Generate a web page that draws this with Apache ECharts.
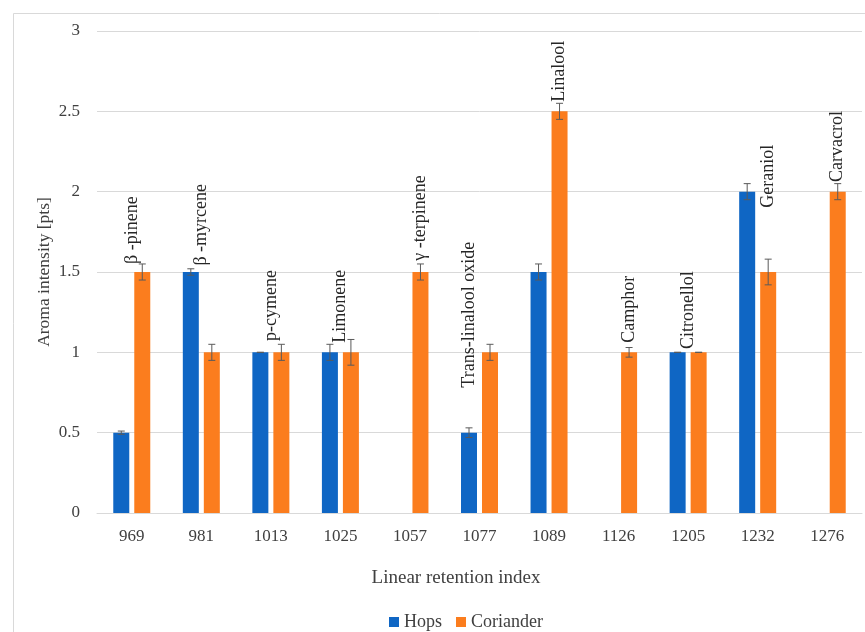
<!DOCTYPE html>
<html>
<head>
<meta charset="utf-8">
<script src="https://cdn.jsdelivr.net/npm/echarts@6/dist/echarts.min.js"></script>
<style>
  html, body { margin: 0; padding: 0; background: #ffffff; }
  #chart { width: 865px; height: 632px; }
</style>
</head>
<body>
<div id="chart"></div>
<script>
// Linear retention indices of the aroma compounds
const categories = ['969', '981', '1013', '1025', '1057', '1077', '1089', '1126', '1205', '1232', '1276'];

// Aroma intensity [pts] per compound (null = not perceived)
const hops = [0.5, 1.5, 1, 1, null, 0.5, 1.5, null, 1, 2, null];
const hopsErr = [0.01, 0.02, 0, 0.05, null, 0.03, 0.05, null, 0, 0.05, null];
const coriander = [1.5, 1, 1, 1, 1.5, 1, 2.5, 1, 1, 1.5, 2];
const corianderErr = [0.05, 0.05, 0.05, 0.08, 0.05, 0.05, 0.05, 0.03, 0, 0.08, 0.05];

// Compound names written above the bars
const compounds = ['β -pinene', 'β -myrcene', 'p-cymene', 'Limonene', 'γ -terpinene',
  'Trans-linalool oxide', 'Linalool', 'Camphor', 'Citronellol', 'Geraniol', 'Carvacrol'];
// intensity level where each name starts, and the bar it sits over (-1 Hops, 0 middle, 1 Coriander)
const compoundAt = [1.55, 1.54, 1.07, 1.06, 1.57, 0.78, 2.56, 1.06, 1.02, 1.9, 2.06];
const compoundOver = [0, 0, 0, 0, 1, -1, 1, 1, 0, 1, 1];

const yTicks = { min: 0, max: 3, step: 0.5 };

const FONT = 'Liberation Serif';
const BAR_W = 16;
const BAR_GAP = 5;
const HALF = (BAR_W + BAR_GAP) / 2;

const chart = echarts.init(document.getElementById('chart'), null, { renderer: 'canvas' });

function errorData(vals, errs) {
  const out = [];
  vals.forEach((v, i) => {
    if (v !== null && errs[i] !== null) out.push([i, v, errs[i]]);
  });
  return out;
}

function errorSeries(vals, errs, side) {
  return {
    type: 'custom',
    silent: true,
    z: 5,
    data: errorData(vals, errs),
    renderItem: function (params, api) {
      const i = api.value(0), v = api.value(1), e = api.value(2);
      const top = api.coord([i, v + e]);
      const bot = api.coord([i, v - e]);
      const x = top[0] + side * HALF;
      const cap = 3.5;
      const st = { stroke: '#5a5a5a', lineWidth: 1 };
      return {
        type: 'group',
        children: [
          { type: 'line', shape: { x1: x, y1: top[1], x2: x, y2: bot[1] }, style: st },
          { type: 'line', shape: { x1: x - cap, y1: top[1], x2: x + cap, y2: top[1] }, style: st },
          { type: 'line', shape: { x1: x - cap, y1: bot[1], x2: x + cap, y2: bot[1] }, style: st }
        ]
      };
    }
  };
}

const nameData = compounds.map((n, i) => [i, compoundAt[i], compoundOver[i]]);

const option = {
  backgroundColor: '#ffffff',
  animation: false,
  textStyle: { fontFamily: FONT },
  grid: { left: 97, right: 3, top: 31, bottom: 119, containLabel: false },
  legend: {
    data: ['Hops', 'Coriander'],
    left: 384,
    top: 608,
    icon: 'rect',
    itemWidth: 10,
    itemHeight: 10,
    itemGap: 14,
    textStyle: { fontFamily: FONT, fontSize: 18, color: '#404040' }
  },
  xAxis: {
    type: 'category',
    data: categories,
    axisTick: { show: false },
    axisLine: { lineStyle: { color: '#d9d9d9', width: 1 } },
    axisLabel: { fontFamily: FONT, fontSize: 17, color: '#404040', margin: 15 },
    splitLine: { show: false }
  },
  yAxis: {
    type: 'value',
    min: yTicks.min,
    max: yTicks.max,
    interval: yTicks.step,
    axisLine: { show: false },
    axisTick: { show: false },
    axisLabel: { fontFamily: FONT, fontSize: 17, color: '#404040', margin: 17 },
    splitLine: { lineStyle: { color: '#d9d9d9', width: 1 } }
  },
  graphic: [
    {
      type: 'rect', left: 11, top: 11, silent: true,
      shape: { width: 900, height: 700 },
      style: { fill: 'none', stroke: '#d9d9d9', lineWidth: 1 }
    },
    {
      type: 'text', x: 456, y: 578, silent: true,
      style: { text: 'Linear retention index', font: '19px "Liberation Serif"', fill: '#404040', align: 'center', verticalAlign: 'middle' }
    },
    {
      type: 'text', x: 44, y: 272, rotation: Math.PI / 2, silent: true,
      style: { text: 'Aroma intensity [pts]', font: '17.5px "Liberation Serif"', fill: '#404040', align: 'center', verticalAlign: 'middle' }
    }
  ],
  series: [
    {
      name: 'Hops', type: 'bar', data: hops,
      barWidth: BAR_W, barGap: (BAR_GAP / BAR_W * 100) + '%',
      itemStyle: { color: '#0f66c4' }
    },
    {
      name: 'Coriander', type: 'bar', data: coriander,
      barWidth: BAR_W,
      itemStyle: { color: '#fb7d1e' }
    },
    errorSeries(hops, hopsErr, -1),
    errorSeries(coriander, corianderErr, 1),
    {
      type: 'custom',
      silent: true,
      z: 6,
      data: nameData,
      renderItem: function (params, api) {
        const i = api.value(0), v = api.value(1), side = api.value(2);
        const p = api.coord([i, v]);
        return {
          type: 'text',
          x: p[0] + side * HALF,
          y: p[1],
          rotation: Math.PI / 2,
          style: {
            text: compounds[params.dataIndex],
            font: '18px "Liberation Serif"',
            fill: '#262626',
            align: 'left',
            verticalAlign: 'middle'
          }
        };
      }
    }
  ]
};

chart.setOption(option);
</script>
</body>
</html>
